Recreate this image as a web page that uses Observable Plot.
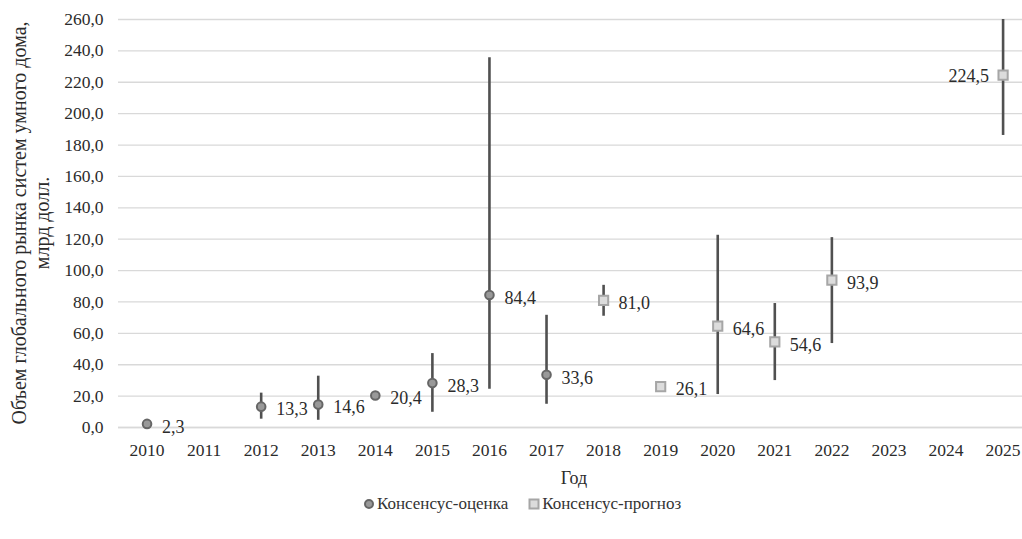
<!DOCTYPE html>
<html><head><meta charset="utf-8">
<script src="https://cdn.jsdelivr.net/npm/d3@7"></script>
<script src="https://cdn.jsdelivr.net/npm/@observablehq/plot@0.6"></script>
<style>
body{margin:0;background:#fff;font-family:"Liberation Serif","DejaVu Serif","Times New Roman",serif;}
#legend{display:flex;justify-content:center;gap:20px;font-size:17px;color:#333;margin-top:4px;padding-left:22px;}
#legend span{display:inline-flex;align-items:center;gap:2px;}
</style></head>
<body><div id="chart"></div><div id="legend"></div>
<script>
const years = [2010,2012,2013,2014,2015,2016,2017,2018,2019,2020,2021,2022,2025];
const values = [2.3,13.3,14.6,20.4,28.3,84.4,33.6,81.0,26.1,64.6,54.6,93.9,224.5];
const lows = [null,5.3,4.6,null,9.7,24.4,14.8,70.9,null,21.0,29.9,53.5,186.1];
const highs = [null,21.9,32.7,null,47.1,235.7,71.5,90.6,null,122.5,79.0,121.0,260];
const seriesNames = ["Консенсус-оценка","Консенсус-прогноз"];
const series = years.map(y => y <= 2017 ? seriesNames[0] : seriesNames[1]);
const tickYears = d3.range(2010, 2026);
const yTicks = d3.range(0, 261, 20);
const yTitle = ["Объем глобального рынка систем умного дома,", "млрд долл."];
const xTitle = "Год";

const data = years.map((y,i) => ({year:y, value:values[i], low:lows[i], high:highs[i], series:series[i]}));
const bars = data.filter(d => d.low != null);
const est = data.filter(d => d.series === seriesNames[0]);
const fc = data.filter(d => d.series === seriesNames[1]);
const fmt = v => v.toFixed(1).replace(".", ",");
const font = '"Liberation Serif","DejaVu Serif","Times New Roman",serif';

const W = 1022, H = 490;
const chart = Plot.plot({
  width: W, height: H,
  marginLeft: 118, marginRight: 0, marginTop: 19, marginBottom: 63,
  style: {fontFamily: font, fontSize: "17px", color: "#2b2b2b", background: "#fff"},
  x: {type: "linear", domain: [2009.5, 2009.5 + 904/57.07], ticks: tickYears, tickFormat: d => String(d), tickSize: 0, tickPadding: 16, label: null},
  y: {domain: [0, 260], ticks: yTicks, tickFormat: fmt, tickSize: 0, tickPadding: 15, label: null},
  marks: [
    Plot.gridY(yTicks, {stroke: "#d9d9d9", strokeOpacity: 1, strokeWidth: 1.3}),
    Plot.ruleY([0], {stroke: "#d9d9d9", strokeWidth: 1.3}),
    Plot.ruleX(bars, {x: "year", y1: "low", y2: "high", stroke: "#505050", strokeWidth: 2.6}),
    Plot.dot(est, {x: "year", y: "value", symbol: "circle", r: 4.3, fill: "#999", stroke: "#666", strokeWidth: 2}),
    Plot.dot(fc, {x: "year", y: "value", symbol: "square", r: 5.2, fill: "#dcdcdc", stroke: "#a6a6a6", strokeWidth: 2}),
    Plot.text(data.filter(d => d.year !== 2025), {x: "year", y: "value", text: d => fmt(d.value), dx: 15, dy: 3, textAnchor: "start", fontSize: 18, fill: "#2b2b2b"}),
    Plot.text(data.filter(d => d.year === 2025), {x: "year", y: "value", text: d => fmt(d.value), dx: -14, dy: 1, textAnchor: "end", fontSize: 18, fill: "#2b2b2b"}),
    Plot.axisX({ticks: tickYears, tickFormat: d => String(d), tickSize: 0, tickPadding: 16, fontSize: 17.5, label: null}),
    Plot.axisY({ticks: yTicks, tickFormat: fmt, tickSize: 0, tickPadding: 15, fontSize: 17.5, label: null})
  ]
});
document.getElementById("chart").appendChild(chart);
const svg = d3.select(chart);
const cy = 223;
const t = svg.append("text").attr("transform", `translate(19,${cy}) rotate(-90)`)
  .attr("text-anchor", "middle").attr("font-size", 20).attr("fill", "#2b2b2b").attr("font-family", font);
t.append("tspan").attr("x", 0).attr("dy", "0.35em").text(yTitle[0]);
t.append("tspan").attr("x", 0).attr("dy", "1.15em").text(yTitle[1]);
svg.append("text").attr("x", 574).attr("y", 484).attr("text-anchor", "middle")
  .attr("font-size", 18).attr("fill", "#2b2b2b").attr("font-family", font).text(xTitle);

const lg = document.getElementById("legend");
lg.innerHTML = `<span><svg width="12" height="12"><circle cx="6" cy="6" r="4" fill="#999" stroke="#666" stroke-width="2"/></svg>${seriesNames[0]}</span>` +
  `<span><svg width="12" height="12"><rect x="1.5" y="1.5" width="9" height="9" fill="#dcdcdc" stroke="#a6a6a6" stroke-width="2"/></svg>${seriesNames[1]}</span>`;
</script></body></html>
